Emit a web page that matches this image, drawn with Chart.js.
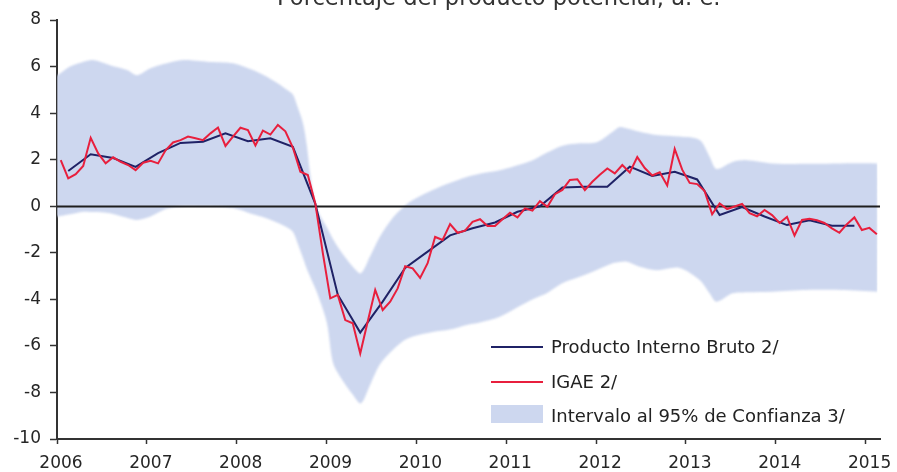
<!DOCTYPE html>
<html lang="es">
<head>
<meta charset="utf-8">
<title>Brecha del producto</title>
<script src="https://cdn.jsdelivr.net/npm/chart.js@4.4.1/dist/chart.umd.min.js"></script>
<style>
  html, body { margin: 0; padding: 0; background: #fff; }
  #wrap { position: relative; width: 897px; height: 472px; overflow: hidden; background: #fff; }
  #c { position: absolute; left: 0; top: 0; }
  #title { position: absolute; left: 277px; top: -14px; font: 22.6px "DejaVu Sans", sans-serif; line-height: 22px; color: #333; white-space: nowrap; }
  .lg-row { position: absolute; left: 491px; height: 20px; width: 380px; font: 18px "DejaVu Sans", sans-serif; line-height: 20px; color: #222; white-space: nowrap; }
  .lg-key { position: absolute; left: 0; width: 52px; }
  .lg-text { position: absolute; left: 60px; top: 0; }
</style>
</head>
<body>
<div id="wrap">
  <canvas id="c" width="897" height="472"></canvas>
  <div id="title">Porcentaje del producto potencial, a. e.</div>
  <div id="legend"></div>
</div>
<script>
// Axis ticks
const yearTicks = [2006, 2007, 2008, 2009, 2010, 2011, 2012, 2013, 2014, 2015];
const xMin = 2006, xMax = 2015.16;
const yMin = -10, yMax = 8, yStep = 2;

// PIB, brecha trimestral (2006 T1 - 2014 T4)
const pibValues = [
  1.51, 2.23, 2.07, 1.69,
  2.28, 2.72, 2.77, 3.13,
  2.79, 2.92, 2.55, 0.10,
  -3.80, -5.43, -4.10, -2.65,
  -1.95, -1.25, -0.95, -0.70,
  -0.24, 0.00, 0.80, 0.84,
  0.84, 1.70, 1.30, 1.48,
  1.15, -0.38, -0.04, -0.44,
  -0.81, -0.60, -0.84, -0.84
];

// IGAE, brecha mensual (ene 2006 - feb 2015)
const igaeValues = [
  1.98, 1.20, 1.38, 1.73, 2.94, 2.27, 1.84, 2.10, 1.91, 1.77, 1.55, 1.87,
  1.95, 1.84, 2.40, 2.74, 2.84, 2.99, 2.92, 2.84, 3.13, 3.38, 2.59, 2.99,
  3.37, 3.27, 2.61, 3.25, 3.08, 3.49, 3.22, 2.52, 1.48, 1.34, 0.12, -2.00,
  -3.96, -3.81, -4.89, -5.03, -6.33, -4.95, -3.60, -4.46, -4.10, -3.53, -2.58, -2.67,
  -3.08, -2.45, -1.32, -1.45, -0.77, -1.14, -1.05, -0.67, -0.56, -0.85, -0.85, -0.56,
  -0.28, -0.48, -0.09, -0.19, 0.22, -0.02, 0.52, 0.70, 1.13, 1.16, 0.69, 1.05,
  1.35, 1.62, 1.41, 1.77, 1.45, 2.11, 1.64, 1.32, 1.46, 0.89, 2.46, 1.57,
  1.00, 0.95, 0.65, -0.35, 0.12, -0.12, -0.01, 0.10, -0.30, -0.43, -0.16, -0.38,
  -0.72, -0.46, -1.26, -0.59, -0.54, -0.60, -0.72, -0.95, -1.14, -0.77, -0.48, -1.02,
  -0.93, -1.20
];

// Intervalo al 95%: fechas (años decimales), límite superior e inferior
const bandDates = [
  2006.000, 2006.145, 2006.289, 2006.400, 2006.590, 2006.779, 2006.890, 2007.034,
  2007.224, 2007.402, 2007.591, 2007.669, 2007.958, 2008.180, 2008.314, 2008.447,
  2008.558, 2008.625, 2008.670, 2008.736, 2008.781, 2008.814, 2008.848, 2008.903,
  2009.003, 2009.070, 2009.148, 2009.293, 2009.382, 2009.482, 2009.593, 2009.737,
  2009.849, 2009.960, 2010.182, 2010.371, 2010.561, 2010.705, 2010.928, 2011.072,
  2011.295, 2011.451, 2011.628, 2011.818, 2012.007, 2012.185, 2012.263, 2012.336,
  2012.485, 2012.674, 2012.930, 2013.152, 2013.263, 2013.341, 2013.519, 2013.675,
  2013.964, 2014.343, 2014.721, 2015.132
];
const bandUpper = [
  5.60, 6.00, 6.20, 6.28, 6.06, 5.85, 5.63, 5.92,
  6.14, 6.28, 6.24, 6.21, 6.14, 5.85, 5.60, 5.30,
  5.00, 4.80, 4.35, 3.60, 2.60, 1.50, 0.60, -0.20,
  -0.90, -1.40, -1.88, -2.60, -2.88, -2.17, -1.31, -0.50,
  -0.05, 0.27, 0.70, 1.00, 1.26, 1.40, 1.55, 1.70,
  1.98, 2.30, 2.60, 2.70, 2.75, 3.20, 3.40, 3.35,
  3.20, 3.06, 2.99, 2.84, 2.13, 1.60, 1.90, 1.98,
  1.84, 1.82, 1.84, 1.84
];
const bandLower = [
  -0.45, -0.35, -0.24, -0.25, -0.30, -0.50, -0.59, -0.45,
  -0.10, 0.00, 0.00, 0.00, -0.08, -0.35, -0.50, -0.70,
  -0.90, -1.10, -1.50, -2.20, -2.70, -3.00, -3.30, -3.80,
  -5.00, -6.70, -7.30, -8.10, -8.47, -7.70, -6.80, -6.18,
  -5.80, -5.60, -5.40, -5.30, -5.10, -5.00, -4.75, -4.46,
  -4.00, -3.74, -3.30, -3.03, -2.74, -2.45, -2.40, -2.38,
  -2.60, -2.75, -2.65, -3.17, -3.74, -4.10, -3.74, -3.70,
  -3.67, -3.60, -3.60, -3.67
];

const labels = {
  pib: 'Producto Interno Bruto 2/',
  igae: 'IGAE 2/',
  band: 'Intervalo al 95% de Confianza 3/'
};
const colors = {
  pib: '#1f2266',
  igae: '#e81f3d',
  band: '#cdd7ef',
  axis: '#333333',
  zero: '#1e1e1e',
  text: '#262626'
};

// Quarterly points sit mid-quarter, monthly points mid-month
const pibPoints = pibValues.map((v, i) => ({ x: xMin + (i * 3 + 1.5) / 12, y: v }));
const igaePoints = igaeValues.map((v, i) => ({ x: xMin + (i + 0.5) / 12, y: v }));
const upperPoints = bandDates.map((d, i) => ({ x: d, y: bandUpper[i] }));
const lowerPoints = bandDates.map((d, i) => ({ x: d, y: bandLower[i] }));

const BAND_INDEX = 2;

// Softens the confidence band and draws the zero line on top of it
const bandAndZero = {
  id: 'bandAndZero',
  beforeDatasetsDraw(chart) {
    chart.ctx.save();
    chart.ctx.filter = 'blur(1.2px)';
  },
  afterDatasetDraw(chart, args) {
    if (args.index !== BAND_INDEX) return;
    const ctx = chart.ctx;
    ctx.restore();
    const y = Math.round(chart.scales.y.getPixelForValue(0)) + 0.5;
    ctx.save();
    ctx.strokeStyle = colors.zero;
    ctx.lineWidth = 2;
    ctx.beginPath();
    ctx.moveTo(chart.chartArea.left, y);
    ctx.lineTo(chart.chartArea.right, y);
    ctx.stroke();
    ctx.restore();
  }
};

const tickFont = { family: 'DejaVu Sans', size: 17 };

const chart = new Chart(document.getElementById('c'), {
  type: 'line',
  data: {
    datasets: [
      { label: labels.pib, data: pibPoints, borderColor: colors.pib, borderWidth: 2, pointRadius: 0, fill: false, order: 1, tension: 0 },
      { label: labels.igae, data: igaePoints, borderColor: colors.igae, borderWidth: 2, pointRadius: 0, fill: false, order: 0, tension: 0 },
      { label: labels.band, data: upperPoints, borderWidth: 0, borderColor: 'rgba(0,0,0,0)', backgroundColor: colors.band, pointRadius: 0, fill: '+1', order: 10, tension: 0.3 },
      { label: '', data: lowerPoints, borderWidth: 0, borderColor: 'rgba(0,0,0,0)', pointRadius: 0, fill: false, order: 11, tension: 0.3 }
    ]
  },
  options: {
    responsive: false,
    animation: false,
    devicePixelRatio: 1,
    layout: { padding: { top: 20, right: 17, left: 0, bottom: 0 } },
    plugins: { legend: { display: false }, tooltip: { enabled: false }, title: { display: false } },
    scales: {
      x: {
        type: 'linear',
        min: xMin,
        max: xMax,
        afterBuildTicks(scale) { scale.ticks = yearTicks.map(v => ({ value: v })); },
        afterFit(scale) { scale.height = 33; },
        ticks: { color: colors.text, font: tickFont, padding: 9, labelOffset: 4, maxRotation: 0, autoSkip: false, callback: v => String(v) },
        grid: { drawOnChartArea: false, tickLength: 5, tickColor: colors.axis, tickWidth: 1.5 },
        border: { color: colors.axis, width: 2 }
      },
      y: {
        min: yMin,
        max: yMax,
        ticks: { stepSize: yStep, color: colors.text, font: tickFont, padding: 9 },
        afterFit(scale) { scale.width = 57; },
        grid: { drawOnChartArea: false, tickLength: 7, tickColor: colors.axis, tickWidth: 1.5 },
        border: { color: colors.axis, width: 2 }
      }
    }
  },
  plugins: [bandAndZero]
});

// Legend built from the datasets
const legend = document.getElementById('legend');
const rows = [
  { ds: 0, top: 337, key: { top: 9, height: 2 } },
  { ds: 1, top: 372, key: { top: 9, height: 2 } },
  { ds: 2, top: 406, key: { top: -1, height: 18 } }
];
rows.forEach(r => {
  const ds = chart.data.datasets[r.ds];
  const row = document.createElement('div');
  row.className = 'lg-row';
  row.style.top = r.top + 'px';
  const key = document.createElement('div');
  key.className = 'lg-key';
  key.style.top = r.key.top + 'px';
  key.style.height = r.key.height + 'px';
  key.style.background = r.ds === 2 ? ds.backgroundColor : ds.borderColor;
  const txt = document.createElement('span');
  txt.className = 'lg-text';
  txt.textContent = ds.label;
  row.appendChild(key);
  row.appendChild(txt);
  legend.appendChild(row);
});
</script>
</body>
</html>
